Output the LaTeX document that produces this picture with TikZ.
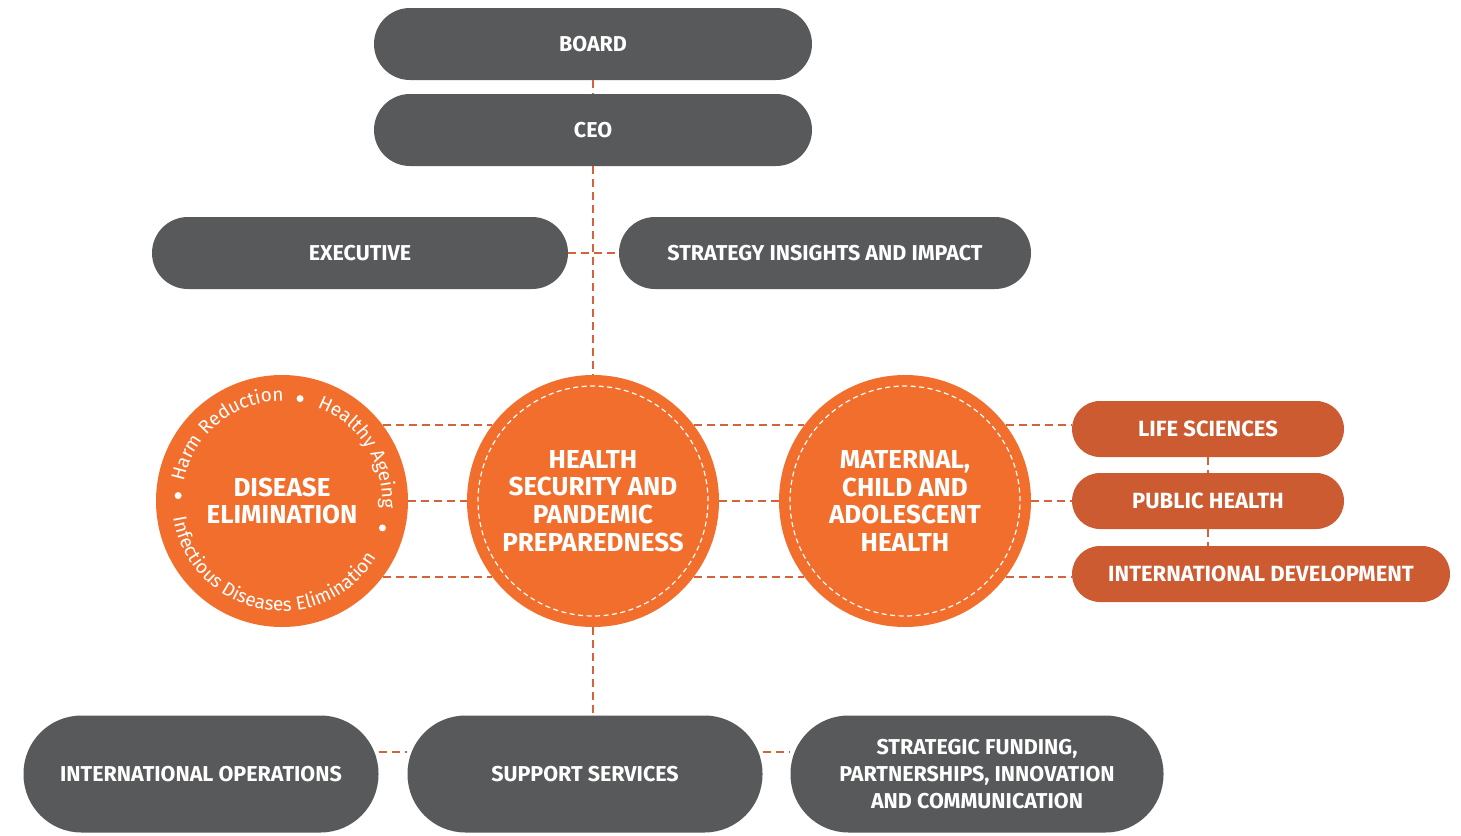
\documentclass[tikz,border=0pt]{standalone}
\usepackage{fontspec}
\setmainfont{Fira Sans}
\usepackage{xcolor}
\usepackage{tikz}
\usetikzlibrary{shapes,positioning,decorations.text}
\definecolor{boxgrey}{HTML}{58595B}
\definecolor{circorange}{HTML}{F26E2C}
\definecolor{unitorange}{HTML}{CD5B31}
\definecolor{lineorange}{HTML}{D4623A}
\newcommand{\arcfont}{\fontsize{19}{19}\selectfont}
\tikzstyle{greybox} = [rectangle,rounded corners=36pt,minimum width=438pt,minimum height=72pt,text centered,fill=boxgrey,text=white,font=\fontsize{21.5}{27}\selectfont\bfseries]
\tikzstyle{bigbox} = [greybox,rounded corners=58pt,minimum width=355pt,minimum height=117pt,align=center]
\tikzstyle{programme} = [circle,minimum size=252pt,inner sep=0pt,align=center,fill=circorange,text=white,font=\fontsize{26}{27.7}\selectfont\bfseries]
\tikzstyle{unit} = [rectangle,rounded corners=28pt,minimum width=272pt,minimum height=56pt,text centered,fill=unitorange,text=white,font=\fontsize{22}{27}\selectfont\bfseries]
\tikzstyle{link} = [lineorange,line width=2pt,dash pattern=on 8pt off 5pt]
\tikzstyle{stitch} = [white,line width=1.2pt,dash pattern=on 5pt off 3.5pt]
\tikzstyle{arctext} = [decorate,decoration={text along path,text color=white,text align=center}]

\begin{document}
\begin{tikzpicture}[x=1pt,y=1pt,node distance=86pt]
\useasboundingbox (0,0) rectangle (1461,-835);
\node (board) [greybox] at (593,-44) {BOARD};
\node (ceo) [greybox,below of=board] {CEO};
\node (exec) [greybox,minimum width=416pt] at (360,-253) {EXECUTIVE};
\node (sia) [greybox,minimum width=412pt] at (825,-253) {STRATEGY INSIGHTS AND IMPACT};

\node (hspp) [programme] at (593,-501) {HEALTH\\SECURITY AND\\PANDEMIC\\PREPAREDNESS};
\node (disease) [programme] at (282,-501) {DISEASE\\ELIMINATION};
\node (mcah) [programme] at (905,-501) {MATERNAL,\\CHILD AND\\ADOLESCENT\\HEALTH};
\draw [stitch] (hspp) circle [radius=115pt];
\draw [stitch] (mcah) circle [radius=115pt];

\node (life) [unit] at (1208,-429) {LIFE SCIENCES};
\node (public) [unit,below of=life,yshift=14pt] {PUBLIC HEALTH};
\node (intdev) [unit,minimum width=378pt] at (1261,-574) {INTERNATIONAL DEVELOPMENT};

\node (intops) [bigbox] at (201,-774) {INTERNATIONAL OPERATIONS};
\node (support) [bigbox] at (585,-774) {SUPPORT SERVICES};
\node (sfpic) [bigbox,minimum width=373pt] at (977,-774) {STRATEGIC FUNDING,\\PARTNERSHIPS, INNOVATION\\AND COMMUNICATION};

% themes round disease elimination
\path [arctext,decoration={text={|\arcfont|Harm Reduction}}] (disease.center) ++(178:100pt) arc [start angle=178,end angle=80,radius=100pt];
\path [arctext,decoration={text={|\arcfont|Healthy Ageing}}] (disease.center) ++(74:100pt) arc [start angle=74,end angle=-9,radius=100pt];
\path [arctext,decoration={text={|\arcfont|Infectious Diseases Elimination}}] (disease.center) ++(180:110pt) arc [start angle=180,end angle=338,radius=110pt];
\fill [white] (disease.center) ++(177:104pt) circle [radius=3.5pt];
\fill [white] (disease.center) ++(80:104pt) circle [radius=3.5pt];
\fill [white] (disease.center) ++(-15:104pt) circle [radius=3.5pt];

\draw [link] (board) -- (ceo);
\draw [link] (ceo) -- (hspp);
\draw [link] (exec) -- (sia);
\draw [link] (hspp) -- (hspp |- support.north);
\draw [link] (disease.37) -- (hspp.143);
\draw [link] (disease) -- (hspp);
\draw [link] (disease.-37) -- (hspp.-143);
\draw [link] (hspp.37) -- (mcah.143);
\draw [link] (hspp) -- (mcah);
\draw [link] (hspp.-37) -- (mcah.-143);
\draw [link] (mcah.37) -- (mcah.37 -| life.west);
\draw [link] (mcah) -- (public);
\draw [link] (mcah.-37) -- (mcah.-37 -| intdev.west);
\draw [link] (life) -- (public);
\draw [link] (public.south) -- (public.south |- intdev.north);
\draw [link] ([yshift=22pt]intops.east) -- ([yshift=22pt]support.west);
\draw [link] ([yshift=22pt]support.east) -- ([yshift=22pt]sfpic.west);
\end{tikzpicture}
\end{document}
